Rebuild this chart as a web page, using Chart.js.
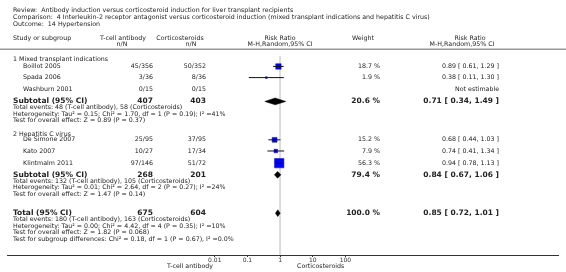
<!DOCTYPE html>
<html lang="en">
<head>
<meta charset="UTF-8">
<title>Forest plot - Hypertension</title>
<style>
    body { margin: 0; padding: 0; background: #fff; }
    canvas { display: block; }
</style>
</head>
<body>
<canvas id="forest" width="566" height="272"></canvas>
<script src="https://cdn.jsdelivr.net/npm/chart.js"></script>
<script>
// ---- data ----
const studies  = ['Boillot 2005', 'Spada 2006', 'Washburn 2001', 'De Simone 2007', 'Kato 2007', 'Klintmalm 2011'];
const studyGroup = [0, 0, 0, 1, 1, 1];
const tcellNN  = ['45/356', '3/36', '0/15', '25/95', '10/27', '97/146'];
const corticoNN = ['50/352', '8/36', '0/15', '37/95', '17/34', '51/72'];
const rr       = [0.89, 0.38, null, 0.68, 0.74, 0.94];
const rrLow    = [0.61, 0.11, null, 0.44, 0.41, 0.78];
const rrHigh   = [1.29, 1.30, null, 1.03, 1.34, 1.13];
const weights  = [18.7, 1.9, null, 15.2, 7.9, 56.3];

const groups     = ['1 Mixed transplant indications', '2 Hepatitis C virus'];
const subTcellN  = [407, 268];
const subCortN   = [403, 201];
const subRR      = [0.71, 0.84];
const subLow     = [0.34, 0.67];
const subHigh    = [1.49, 1.06];
const subWeight  = [20.6, 79.4];
const subStats = [
    ['Total events: 48 (T-cell antibody), 58 (Corticosteroids)',
     'Heterogeneity: Tau\u00b2 = 0.15; Chi\u00b2 = 1.70, df = 1 (P = 0.19); I\u00b2 =41%',
     'Test for overall effect: Z = 0.89 (P = 0.37)'],
    ['Total events: 132 (T-cell antibody), 105 (Corticosteroids)',
     'Heterogeneity: Tau\u00b2 = 0.01; Chi\u00b2 = 2.64, df = 2 (P = 0.27); I\u00b2 =24%',
     'Test for overall effect: Z = 1.47 (P = 0.14)']
];

const totalTcellN = 675;
const totalCortN  = 604;
const totalRR = 0.85, totalLow = 0.72, totalHigh = 1.01;
const totalStats = [
    'Total events: 180 (T-cell antibody), 163 (Corticosteroids)',
    'Heterogeneity: Tau\u00b2 = 0.00; Chi\u00b2 = 4.42, df = 4 (P = 0.35); I\u00b2 =10%',
    'Test for overall effect: Z = 1.82 (P = 0.068)',
    'Test for subgroup differences: Chi\u00b2 = 0.18, df = 1 (P = 0.67), I\u00b2 =0.0%'
];

const tickValues = [0.01, 0.1, 1, 10, 100];
const tickLabels = ['0.01', '0.1', '1', '10', '100'];

const titleLines = [
    'Review:  Antibody induction versus corticosteroid induction for liver transplant recipients',
    'Comparison:  4 Interleukin-2 receptor antagonist versus corticosteroid induction (mixed transplant indications and hepatitis C virus)',
    'Outcome:  14 Hypertension'
];

// ---- layout (row positions on the hidden vertical scale, 0 = top) ----
const studyRowY  = [61, 72.5, 84.5, 136.5, 148, 160.5];
const groupRowY  = [54, 130.5];
const subRowY    = [97, 172.5];
const subStatsY  = [[103.5, 110, 116.5], [179, 185.5, 192.5]];
const totalRowY  = 212;
const totalStatsY = [218, 225.5, 232, 239];
const refLineTop = 50;

const FONT = '"DejaVu Sans", Verdana, sans-serif';
const TEXT = '#222';
const FS = 6.3;      // normal text
const FSB = 7.5;     // bold summary rows

const fmt2 = v => v.toFixed(2);
const ciText = (e, l, h) => fmt2(e) + ' [ ' + fmt2(l) + ', ' + fmt2(h) + ' ]';
const boxRadius = w => (1.25 * Math.sqrt(w)) / Math.SQRT2;

// ---- datasets ----
const datasets = [];

// line of no effect
datasets.push({
    type: 'line', data: [{ x: 1, y: refLineTop }, { x: 1, y: 255 }],
    borderColor: '#dcdcdc', borderWidth: 2, pointRadius: 0, order: 5
});

// confidence intervals
studies.forEach((s, i) => {
    if (rr[i] === null) return;
    datasets.push({
        type: 'line', data: [{ x: rrLow[i], y: studyRowY[i] }, { x: rrHigh[i], y: studyRowY[i] }],
        borderColor: '#111', borderWidth: 1, pointRadius: 0, order: 0
    });
});

// study boxes
const boxPts = [], boxR = [];
studies.forEach((s, i) => {
    if (rr[i] === null) return;
    boxPts.push({ x: rr[i], y: studyRowY[i] });
    boxR.push(boxRadius(weights[i]));
});
datasets.push({
    type: 'scatter', data: boxPts, pointStyle: 'rect', pointRadius: boxR,
    backgroundColor: '#0000ff', borderColor: '#0000c0', borderWidth: 0.5, order: 1
});

// diamonds
function diamond(e, l, h, y) {
    const hh = 3.5;
    return {
        type: 'line',
        data: [{ x: l, y: y }, { x: e, y: y - hh }, { x: h, y: y }, { x: e, y: y + hh }, { x: l, y: y }],
        borderColor: '#000', borderWidth: 0.5, backgroundColor: '#000',
        fill: 'shape', pointRadius: 0, tension: 0, order: 1
    };
}
groups.forEach((g, k) => datasets.push(diamond(subRR[k], subLow[k], subHigh[k], subRowY[k])));
datasets.push(diamond(totalRR, totalLow, totalHigh, totalRowY));

// ---- text columns drawn on top ----
const textPlugin = {
    id: 'forestText',
    afterDraw(chart) {
        const c = chart.ctx;
        const ys = chart.scales.y;
        const Y = v => ys.getPixelForValue(v);
        c.save();
        c.fillStyle = TEXT;
        c.textBaseline = 'middle';

        function put(str, x, y, size, align, bold) {
            c.font = (bold ? 'bold ' : '') + size + 'px ' + FONT;
            c.textAlign = align || 'left';
            c.fillText(str, x, y);
        }

        // titles
        put(titleLines[0], 13, 10, FS);
        put(titleLines[1], 13, 17, FS);
        put(titleLines[2], 13, 24, FS);

        // header
        put('Study or subgroup', 13, 38.5, FS);
        put('T-cell antibody', 123, 38.5, FS, 'center');
        put('n/N', 122, 44, FS, 'center');
        put('Corticosteroids', 180, 38.5, FS, 'center');
        put('n/N', 191, 44, FS, 'center');
        put('Risk Ratio', 280, 38.5, FS, 'center');
        put('M-H,Random,95% CI', 280, 44, FS, 'center');
        put('Weight', 352, 38.5, FS);
        put('Risk Ratio', 470, 38.5, FS, 'center');
        put('M-H,Random,95% CI', 462, 44, FS, 'center');

        // header rule
        c.fillStyle = '#999';
        c.fillRect(0, 48.5, 566, 1.5);
        c.fillStyle = TEXT;

        groups.forEach((g, k) => {
            put(g, 13, Y(groupRowY[k]), FS);
            studies.forEach((s, i) => {
                if (studyGroup[i] !== k) return;
                const y = Y(studyRowY[i]);
                put(s, 23, y, FS);
                put(tcellNN[i], 153, y, FS, 'right');
                put(corticoNN[i], 206, y, FS, 'right');
                if (rr[i] === null) {
                    put('Not estimable', 499, y, FS, 'right');
                } else {
                    put(weights[i].toFixed(1) + ' %', 380, y, FS, 'right');
                    put(ciText(rr[i], rrLow[i], rrHigh[i]), 499, y, FS, 'right');
                }
            });
            const ySub = Y(subRowY[k]);
            put('Subtotal (95% CI)', 13, ySub, FSB, 'left', true);
            put(String(subTcellN[k]), 153, ySub, FSB, 'right', true);
            put(String(subCortN[k]), 206, ySub, FSB, 'right', true);
            put(subWeight[k].toFixed(1) + ' %', 380, ySub, FSB, 'right', true);
            put(ciText(subRR[k], subLow[k], subHigh[k]), 499, ySub, FSB, 'right', true);
            subStats[k].forEach((t, j) => put(t, 13, Y(subStatsY[k][j]), FS));
        });

        const yT = Y(totalRowY);
        put('Total (95% CI)', 13, yT, FSB, 'left', true);
        put(String(totalTcellN), 153, yT, FSB, 'right', true);
        put(String(totalCortN), 206, yT, FSB, 'right', true);
        put('100.0 %', 380, yT, FSB, 'right', true);
        put(ciText(totalRR, totalLow, totalHigh), 499, yT, FSB, 'right', true);
        totalStats.forEach((t, j) => put(t, 13, Y(totalStatsY[j]), FS));

        // axis captions
        put('T-cell antibody', 213, 266, FS, 'right');
        put('Corticosteroids', 297, 266, FS, 'left');
        c.restore();
    }
};

// x: log scale, 0.01 -> 213px and 100 -> 347px across a 566px wide plot area
const decadePx = (347 - 213) / 4;
const xMin = 0.01 / Math.pow(10, 213 / decadePx);
const xMax = 100 * Math.pow(10, (566 - 347) / decadePx);

new Chart(document.getElementById('forest').getContext('2d'), {
    type: 'scatter',
    data: { datasets },
    options: {
        responsive: false,
        animation: false,
        layout: { padding: { left: 0, right: 0, top: 0, bottom: 3 } },
        plugins: { legend: { display: false }, tooltip: { enabled: false } },
        scales: {
            x: {
                type: 'logarithmic',
                min: xMin,
                max: xMax,
                afterBuildTicks: s => { s.ticks = tickValues.map(v => ({ value: v })); },
                afterFit: s => { s.height = 14; },
                grid: { drawOnChartArea: false, drawTicks: true, tickLength: 2, color: '#333' },
                border: { color: '#333', width: 1 },
                ticks: {
                    autoSkip: false, maxRotation: 0, padding: 0, color: '#333',
                    font: { family: FONT, size: 6 },
                    callback: (v, i) => tickLabels[i]
                }
            },
            y: { type: 'linear', min: 0, max: 255, reverse: true, display: false }
        }
    },
    plugins: [textPlugin]
});
</script>
</body>
</html>
